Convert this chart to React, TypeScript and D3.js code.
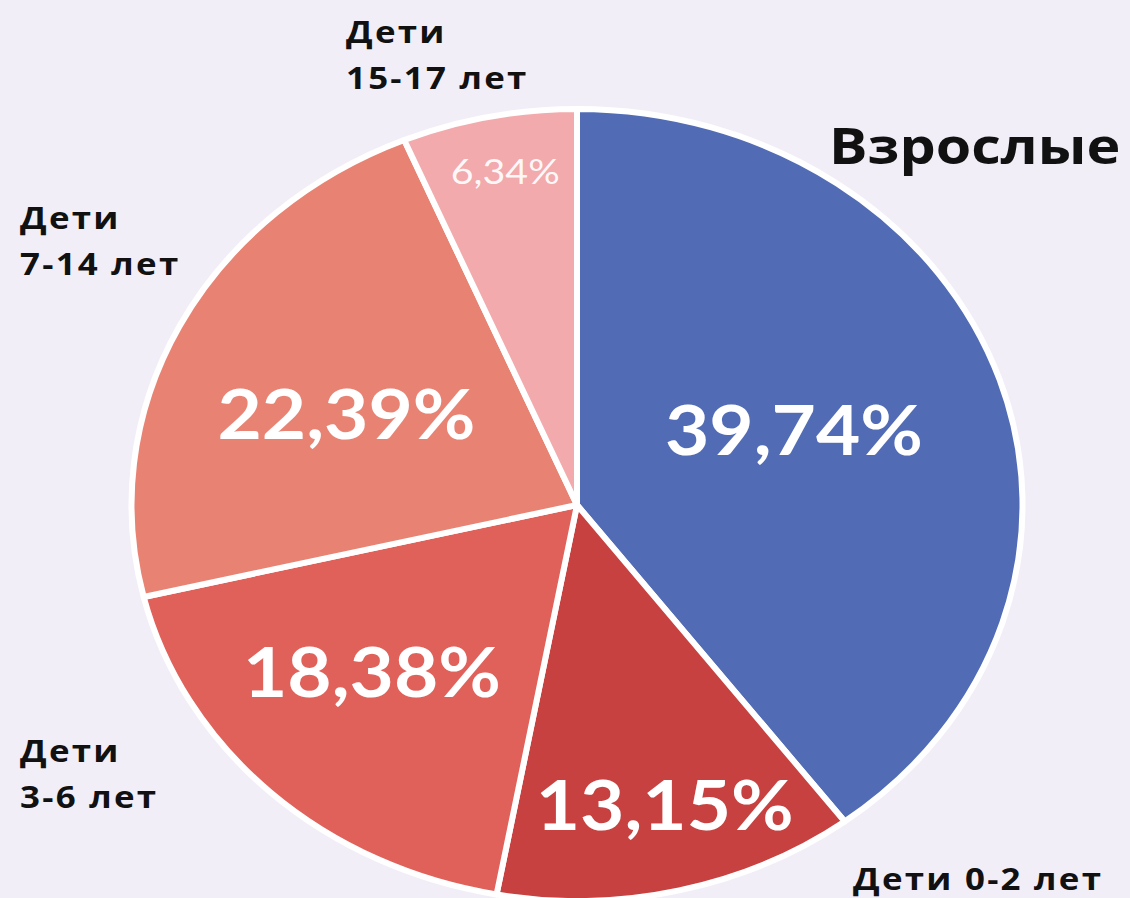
import React, { useEffect, useRef } from 'react';
import * as d3 from 'd3';

// Shares of the population by age group (%), clockwise from 12 o'clock
const groups = ['Взрослые', 'Дети 0-2 лет', 'Дети 3-6 лет', 'Дети 7-14 лет', 'Дети 15-17 лет'];
const shares = [39.74, 13.15, 18.38, 22.39, 6.34];
const shareLabels = ['39,74%', '13,15%', '18,38%', '22,39%', '6,34%'];

const colors = ['#516cb4', '#c6413f', '#e0605a', '#e88374', '#f2aaad'];
// where the % label sits along the slice radius, a small nudge, and its size
const labelRadius = [0.53, 0.78, 0.62, 0.57, 0.86];
const labelNudge = [[-7, -8], [8, 0], [-15, -11], [-4, 12], [4, 0]];
const labelSize = [68, 68, 68, 68, 35];

// category captions outside the pie (lines, anchor x, first baseline)
const captions = [
  { lines: ['Взрослые'], x: 829, y: 164, size: 51, ls: 0 },
  { lines: ['Дети 0-2 лет'], x: 853, y: 890, size: 31, ls: 2 },
  { lines: ['Дети', '3-6 лет'], x: 20, y: 762, size: 31, ls: 2 },
  { lines: ['Дети', '7-14 лет'], x: 20, y: 229, size: 31, ls: 2 },
  { lines: ['Дети', '15-17 лет'], x: 346, y: 43, size: 31, ls: 2 },
];

const W = 1130;
const H = 898;
const SX = 1.125; // the original is stretched horizontally

const PieChart: React.FC = () => {
  const svgRef = useRef<SVGSVGElement>(null);

  useEffect(() => {
    document.body.style.margin = '0';
    if (!svgRef.current) return;
    const svg = d3.select(svgRef.current);
    svg.selectAll('*').remove();

    svg.append('rect').attr('width', W).attr('height', H).attr('fill', '#f2eef8');

    const cx = 577;
    const cy = 505;
    const r = 396;

    const pie = d3.pie<number>().sort(null).value(d => d);
    const arcs = pie(shares);
    const arc = d3.arc<d3.PieArcDatum<number>>().innerRadius(0).outerRadius(r);

    const g = svg.append('g')
      .attr('transform', `translate(${cx},${cy}) scale(${SX},1)`);

    g.selectAll('path')
      .data(arcs)
      .enter().append('path')
      .attr('d', arc)
      .attr('fill', (d, i) => colors[i])
      .attr('stroke', '#ffffff')
      .attr('stroke-width', 6)
      .attr('stroke-linejoin', 'round')
      .attr('vector-effect', 'non-scaling-stroke');

    // percentage labels
    arcs.forEach((d, i) => {
      const a = (d.startAngle + d.endAngle) / 2;
      const rr = r * labelRadius[i];
      const x = cx + Math.sin(a) * rr * SX + labelNudge[i][0];
      const y = cy - Math.cos(a) * rr + labelNudge[i][1];
      svg.append('g')
        .attr('transform', `translate(${x},${y}) scale(${SX},1)`)
        .append('text')
        .attr('dy', '0.36em')
        .attr('text-anchor', 'middle')
        .style('font-family', 'Lato, sans-serif')
        .style('font-weight', i === 4 ? 400 : 700)
        .style('font-size', `${labelSize[i]}px`)
        .style('fill', '#ffffff')
        .style('opacity', i === 4 ? 0.92 : 1)
        .text(shareLabels[i]);
    });

    // captions
    captions.forEach((c, i) => {
      const t = svg.append('g')
        .attr('transform', `translate(${c.x},${c.y}) scale(${SX},1)`)
        .append('text')
        .style('font-family', '"Open Sans", sans-serif')
        .style('font-weight', 700)
        .style('font-size', `${c.size}px`)
        .style('letter-spacing', `${c.ls}px`)
        .style('fill', '#111111')
        .attr('aria-label', groups[i]);
      c.lines.forEach((line, j) => {
        t.append('tspan')
          .attr('x', 0)
          .attr('dy', j === 0 ? 0 : 46)
          .text(line);
      });
    });
  }, []);

  return <svg ref={svgRef} width={W} height={H} style={{ display: 'block' }} />;
};

export default function App() {
  return <PieChart />;
}
